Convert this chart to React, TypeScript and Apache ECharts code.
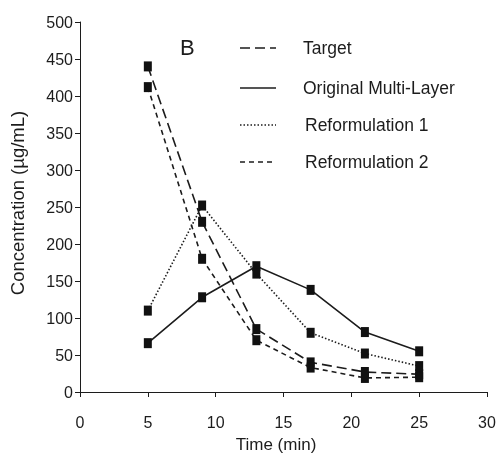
import React, { useEffect, useRef } from "react";
import * as echarts from "echarts";

const times = [5, 9, 13, 17, 21, 25];
const target = [440, 230, 85, 40, 27, 24];
const original = [66, 128, 170, 138, 81, 55];
const reform1 = [110, 252, 160, 80, 52, 35];
const reform2 = [412, 180, 70, 33, 19, 20];
const legendNames = ["Target", "Original Multi-Layer", "Reformulation 1", "Reformulation 2"];

const FONT = "'Liberation Sans', Arial, sans-serif";
const INK = "#1c1c1c";

function pairs(vals: number[]) {
  return vals.map((v, i) => [times[i], v]);
}

export default function App() {
  const ref = useRef<HTMLDivElement>(null);
  useEffect(() => {
    const chart = echarts.init(ref.current!, undefined, { renderer: "svg", width: 500, height: 454 });
    const dashStyles: any[] = [[10, 5], "solid", [1.5, 2], [5, 4]];
    const seriesVals = [target, original, reform1, reform2];
    const legendRowsY = [48, 88, 125, 162];
    const graphic: any[] = [
      {
        type: "text",
        left: 180,
        top: 36,
        style: { text: "B", font: `22px ${FONT}`, fill: INK },
      },
    ];
    legendNames.forEach((name, i) => {
      graphic.push({
        type: "line",
        shape: { x1: 240, y1: legendRowsY[i], x2: 276, y2: legendRowsY[i] },
        style: { stroke: INK, lineWidth: 1.6, lineDash: dashStyles[i] === "solid" ? null : dashStyles[i] },
      });
      graphic.push({
        type: "text",
        x: i < 2 ? 303 : 305,
        y: legendRowsY[i],
        style: { text: name, font: `17.5px ${FONT}`, fill: INK, verticalAlign: "middle" },
      });
    });
    chart.setOption({
      animation: false,
      grid: { left: 80, right: 13, top: 22, bottom: 62, containLabel: false, outerBoundsMode: "none" },
      xAxis: {
        type: "value",
        min: 0,
        max: 30,
        interval: 5,
        name: "Time (min)",
        nameLocation: "middle",
        nameGap: 44,
        nameMoveOverlap: false,
        nameTextStyle: { fontFamily: FONT, fontSize: 17, color: INK, padding: [0, 15, 0, 0] },
        axisLine: { show: true, lineStyle: { color: INK, width: 1 } },
        axisTick: { show: true, length: 5, lineStyle: { color: INK } },
        axisLabel: { fontFamily: FONT, fontSize: 16, color: INK, margin: 22 },
        splitLine: { show: false },
      },
      yAxis: {
        type: "value",
        min: 0,
        max: 500,
        interval: 50,
        name: "Concentration (µg/mL)",
        nameLocation: "middle",
        nameGap: 53,
        nameMoveOverlap: false,
        nameTextStyle: { fontFamily: FONT, fontSize: 18.5, color: INK, padding: [0, 0, 0, 8] },
        axisLine: { show: true, lineStyle: { color: INK, width: 1 } },
        axisTick: { show: true, length: 5, lineStyle: { color: INK } },
        axisLabel: { fontFamily: FONT, fontSize: 16, color: INK, margin: 7 },
        splitLine: { show: false },
      },
      graphic,
      series: seriesVals.map((vals, i) => ({
        name: legendNames[i],
        type: "line",
        data: pairs(vals),
        symbol: "rect",
        symbolSize: [8, 10],
        itemStyle: { color: "#111" },
        lineStyle: {
          color: INK,
          width: 1.6,
          type: dashStyles[i],
        },
      })),
    });
    return () => chart.dispose();
  }, []);
  return (
    <div
      ref={ref}
      style={{ position: "fixed", left: 0, top: 0, width: 500, height: 454 }}
    />
  );
}
